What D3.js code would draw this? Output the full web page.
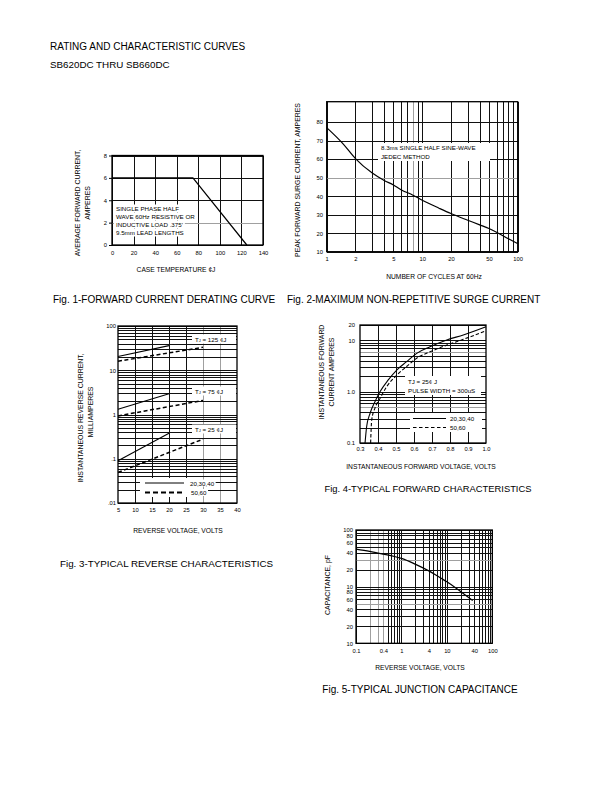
<!DOCTYPE html>
<html><head><meta charset="utf-8">
<script src="https://cdn.jsdelivr.net/npm/d3@7"></script>
<style>
body{margin:0;background:#fff;}
svg{display:block;}
</style></head><body>
<script>
// ---------------- DATA ----------------
const headerLines = ["RATING AND CHARACTERISTIC CURVES", "SB620DC THRU SB660DC"];

// Fig 1
const fig1Temp = [0, 75, 125];
const fig1Current = [6, 6, 0];
const fig1XTicks = [0, 20, 40, 60, 80, 100, 120, 140];
const fig1YTicks = [0, 2, 4, 6, 8];
const fig1Note = ["SINGLE PHASE HALF", "WAVE 60Hz RESISTIVE OR", "INDUCTIVE LOAD .375'", "9.5mm LEAD LENGTHS"];

// Fig 2
const fig2Cycles = [1, 1.5, 2, 3, 4, 5, 6, 8, 10, 15, 20, 30, 40, 50, 60, 80, 100];
const fig2Current = [77, 68, 60.3, 52.5, 48.5, 46, 43.5, 40.5, 37.8, 33.5, 30.6, 27, 24.5, 22.5, 20.5, 17, 14.4];
const fig2XTicks = [1, 2, 5, 10, 20, 50, 100];
const fig2YTicks = [10, 20, 30, 40, 50, 60, 70, 80];
const fig2Note = ["8.3ms SINGLE HALF SINE-WAVE", "JEDEC METHOD"];

// Fig 3
const fig3SolidV = [5, 20];
const fig3DashedV = [5, 30];
const fig3Solid125 = [20.5, 36];
const fig3Dashed125 = [16, 33];
const fig3Solid75 = [1.32, 2.95];
const fig3Dashed75 = [0.93, 2.08];
const fig3Solid25 = [0.09, 0.376];
const fig3Dashed25 = [0.049, 0.277];
const fig3Temps = ["125", "75", "25"];
const fig3XTicks = [5, 10, 15, 20, 25, 30, 35, 40];
const fig3YTicks = [100, 10, 1, 0.1, 0.01];
const fig3YLabels = ["100", "10", "1", ".1", ".01"];
const fig3Legend = ["20,30,40", "50,60"];

// Fig 4
const fig4SolidV = [0.328, 0.337, 0.356, 0.383, 0.411, 0.457, 0.504, 0.559, 0.615, 0.689, 0.782, 0.874, 1.0];
const fig4SolidI = [0.1, 0.21, 0.38, 0.64, 1.0, 1.7, 2.65, 3.85, 5.6, 7.5, 10.2, 12.8, 18.5];
const fig4DashedV = [0.359, 0.365, 0.383, 0.411, 0.448, 0.504, 0.559, 0.615, 0.689, 0.782, 0.874, 1.0];
const fig4DashedI = [0.1, 0.28, 0.48, 0.74, 1.25, 2.1, 3.1, 4.5, 6.0, 8.1, 10.5, 15.5];
const fig4XTicks = [0.3, 0.4, 0.5, 0.6, 0.7, 0.8, 0.9, 1.0];
const fig4YTicks = [20, 10, 1, 0.1];
const fig4YLabels = ["20", "10", "1.0", "0.1"];
const fig4Note = ["TJ = 25\u00a2 J", "PULSE WIDTH = 300uS"];
const fig4Legend = ["20,30,40", "50,60"];

// Fig 5
const fig5Voltage = [0.1, 0.2, 0.4, 0.7, 1, 2, 4, 7, 10, 20, 37];
const fig5Cap = [46, 42, 37.5, 34, 31.5, 25, 19, 14.5, 12.2, 8.2, 5.7];
const fig5XTicks = [0.1, 0.4, 1, 4, 10, 40, 100];
const fig5XLabels = ["0.1", "0.4", "1", "4", "10", "40", "100"];
const fig5YTicks = [100, 80, 60, 40, 20, 10, 8, 6, 4, 2, 1];
const fig5YLabels = ["100", "80", "60", "40", "20", "10", "80", "60", "40", "20", "10"];

const captions = [
  "Fig. 1-FORWARD CURRENT DERATING CURVE",
  "Fig. 2-MAXIMUM NON-REPETITIVE SURGE CURRENT",
  "Fig. 3-TYPICAL REVERSE CHARACTERISTICS",
  "Fig. 4-TYPICAL FORWARD CHARACTERISTICS",
  "Fig. 5-TYPICAL JUNCTION CAPACITANCE"
];

// ---------------- DRAW ----------------
const FONT = "'Liberation Sans', Arial, Helvetica, sans-serif";
const svg = d3.select("body").append("svg").attr("width", 612).attr("height", 792)
  .attr("font-family", FONT);
svg.append("rect").attr("width", 612).attr("height", 792).attr("fill", "#fff");

const TICK_FS = 5.8, TITLE_FS = 6.7, YTITLE_FS = 6.9, NOTE_FS = 6.2, CAP_FS = 10;

function near(a, b) { return Math.abs(a - b) <= 1e-9 * Math.max(1, Math.abs(b)); }
function logGrid(lo, hi) {
  const out = [];
  for (let e = Math.floor(Math.log10(lo) + 1e-9); e < Math.round(Math.log10(hi) + 0.5); e++) {
    for (let m = 1; m < 10; m++) {
      const v = +(m * Math.pow(10, e)).toPrecision(6);
      if (v >= lo - 1e-12 && v <= hi + 1e-12) out.push(v);
    }
  }
  if (!out.some(v => near(v, hi))) out.push(hi);
  return out;
}

function gridAndFrame(o) {
  const g = svg.append("g");
  const [xl, xr] = o.x.range(), [yb, yt] = o.y.range();
  const grayX = o.grayX || [], grayY = o.grayY || [];
  g.append("g").attr("transform", `translate(0,${yb})`)
    .call(d3.axisBottom(o.x).tickValues(o.xGrid).tickSize(-(yb - yt)).tickFormat(""))
    .call(s => {
      s.select(".domain").remove();
      s.selectAll("line").attr("stroke", d => grayX.some(v => near(v, d)) ? "#a0a0a0" : "#111").attr("stroke-width", 1).attr("shape-rendering", "crispEdges");
    });
  g.append("g").attr("transform", `translate(${xl},0)`)
    .call(d3.axisLeft(o.y).tickValues(o.yGrid).tickSize(-(xr - xl)).tickFormat(""))
    .call(s => {
      s.select(".domain").remove();
      s.selectAll("line").attr("stroke", d => grayY.some(v => near(v, d)) ? "#a0a0a0" : "#111").attr("stroke-width", 1).attr("shape-rendering", "crispEdges");
    });
  return g;
}
function frame(o) {
  const [xl, xr] = o.x.range(), [yb, yt] = o.y.range();
  svg.append("rect").attr("x", xl).attr("y", yt).attr("width", xr - xl).attr("height", yb - yt)
    .attr("fill", "none").attr("stroke", "#000").attr("stroke-width", 1.3);
}
function xLabels(o, ticks, labels, y) {
  svg.append("g").attr("transform", `translate(0,${y})`)
    .call(d3.axisBottom(o.x).tickValues(ticks).tickFormat((d, i) => labels[i]).tickSize(0).tickPadding(0))
    .attr("font-family", FONT).attr("font-size", TICK_FS)
    .call(s => { s.select(".domain").remove(); s.selectAll("text").attr("y", 0).attr("dy", "0.35em").attr("fill", "#000"); });
}
function yLabels(o, ticks, labels, x, tickLen) {
  svg.append("g").attr("transform", `translate(${x},0)`)
    .call(d3.axisLeft(o.y).tickValues(ticks).tickFormat((d, i) => labels[i]).tickSize(tickLen || 0).tickPadding(tickLen ? 2 : 0))
    .attr("font-family", FONT).attr("font-size", TICK_FS)
    .call(s => { s.select(".domain").remove(); s.selectAll("line").attr("stroke", "#000"); s.selectAll("text").attr("fill", "#000"); });
}
function whiteBox(x, y, w, h) {
  svg.append("rect").attr("x", x).attr("y", y).attr("width", w).attr("height", h).attr("fill", "#fff");
}
function text(t, x, y, fs, anchor, rot) {
  const el = svg.append("text").attr("font-size", fs).attr("fill", "#000")
    .attr("text-anchor", anchor || "start").attr("dominant-baseline", "central").text(t);
  if (rot) el.attr("transform", `translate(${x},${y}) rotate(-90)`);
  else el.attr("x", x).attr("y", y);
  return el;
}
// text with a white backing rect behind it (rect sized from text bbox)
function haloText(t, x, y, fs, padX, padY) {
  const el = text(t, x, y, fs);
  const b = el.node().getBBox();
  svg.insert("rect", () => el.node()).attr("x", b.x - padX).attr("y", b.y - padY)
    .attr("width", b.width + 2 * padX).attr("height", b.height + 2 * padY).attr("fill", "#fff");
  return el;
}

// header
text(headerLines[0], 50, 46, 10);
text(headerLines[1], 50, 64.5, 9.8);

// ===== Fig 1 =====
{
  const x = d3.scaleLinear().domain([0, 140]).range([112, 263]);
  const y = d3.scaleLinear().domain([0, 8]).range([245, 155.5]);
  const o = { x, y, xGrid: fig1XTicks, yGrid: fig1YTicks, grayY: [2] };
  gridAndFrame(o);
  fig1Note.forEach((t, i) => haloText(t, 116, 208.5 + i * 8, NOTE_FS, 2, 0.5));
  frame(o);
  const line = d3.line().x((d, i) => x(fig1Temp[i])).y((d, i) => y(fig1Current[i]));
  svg.append("path").datum(fig1Temp).attr("d", line).attr("fill", "none").attr("stroke", "#000").attr("stroke-width", 1.2);
  xLabels(o, fig1XTicks, fig1XTicks.map(String), 252.5);
  yLabels(o, fig1YTicks, fig1YTicks.map(String), 112, 3);
  text("CASE TEMPERATURE \u00a2J", 176, 269, TITLE_FS, "middle");
  text("AVERAGE FORWARD CURRENT,", 77, 203, YTITLE_FS, "middle", true);
  text("AMPERES", 87, 203, YTITLE_FS, "middle", true);
}

// ===== Fig 2 =====
{
  const x = d3.scaleLog().domain([1, 100]).range([326.7, 517.7]);
  const y = d3.scaleLinear().domain([10, 91]).range([251.7, 101.7]);
  const o = { x, y, xGrid: logGrid(1, 100), yGrid: fig2YTicks, grayX: [8], grayY: [50] };
  gridAndFrame(o);
  whiteBox(378, 143, 112, 18);
  fig2Note.forEach((t, i) => text(t, 381, 147.5 + i * 8.5, NOTE_FS));
  frame(o);
  const line = d3.line().x((d, i) => x(fig2Cycles[i])).y((d, i) => y(fig2Current[i])).curve(d3.curveMonotoneX);
  svg.append("path").datum(fig2Cycles).attr("d", line).attr("fill", "none").attr("stroke", "#000").attr("stroke-width", 1.2);
  xLabels(o, fig2XTicks, fig2XTicks.map(String), 258.5);
  yLabels(o, fig2YTicks, fig2YTicks.map(String), 323);
  text("NUMBER OF CYCLES AT 60Hz", 434, 276, TITLE_FS, "middle");
  text("PEAK FORWARD SURGE CURRENT, AMPERES", 297, 180, YTITLE_FS, "middle", true);
}

// ===== Fig 3 =====
{
  const x = d3.scaleLinear().domain([5, 40]).range([118, 237]);
  const y = d3.scaleLog().domain([0.01, 100]).range([503, 326]);
  const o = { x, y, xGrid: [10, 15, 20, 25, 30, 35], yGrid: logGrid(0.01, 100), grayX: [30, 35] };
  gridAndFrame(o);
  const annY = [339, 391, 429];
  annY.forEach(yy => whiteBox(192, yy - 4.5, 44, 9));
  fig3Temps.forEach((t, i) => {
    const el = svg.append("text").attr("x", 195).attr("y", annY[i]).attr("font-size", NOTE_FS).attr("dominant-baseline", "central");
    el.append("tspan").text("T");
    el.append("tspan").attr("font-size", 4).attr("dy", 1.4).text("J");
    el.append("tspan").attr("dy", -1.4).text(" = " + t + " \u00a2J");
  });
  whiteBox(140, 478, 58, 19);
  frame(o);
  const seg = (vs, is) => vs.map((v, k) => [x(v), y(is[k])]);
  const solid = [fig3Solid125, fig3Solid75, fig3Solid25];
  const dashed = [fig3Dashed125, fig3Dashed75, fig3Dashed25];
  const L = d3.line();
  solid.forEach(s => svg.append("path").attr("d", L(seg(fig3SolidV, s))).attr("fill", "none").attr("stroke", "#000").attr("stroke-width", 1.1));
  dashed.forEach(s => svg.append("path").attr("d", L(seg(fig3DashedV, s))).attr("fill", "none").attr("stroke", "#000").attr("stroke-width", 1.5).attr("stroke-dasharray", "4,2.5"));
  svg.append("line").attr("x1", 145).attr("x2", 184).attr("y1", 483).attr("y2", 483).attr("stroke", "#000").attr("stroke-width", 1);
  svg.append("line").attr("x1", 145).attr("x2", 184).attr("y1", 492.5).attr("y2", 492.5).attr("stroke", "#000").attr("stroke-width", 2.2).attr("stroke-dasharray", "5,3");
  haloText(fig3Legend[0], 190, 483, NOTE_FS, 1, 0);
  haloText(fig3Legend[1], 191, 492.5, NOTE_FS, 1, 0);
  xLabels(o, fig3XTicks, fig3XTicks.map(String), 510);
  yLabels(o, fig3YTicks, fig3YLabels, 116);
  text("REVERSE VOLTAGE, VOLTS", 178, 530, TITLE_FS, "middle");
  text("INSTANTANEOUS REVERSE CURRENT,", 80, 418, YTITLE_FS, "middle", true);
  text("MILLIAMPERES", 90, 412, YTITLE_FS, "middle", true);
}

// ===== Fig 4 =====
{
  const x = d3.scaleLinear().domain([0.3, 1.0]).range([360, 486]);
  const y = d3.scaleLog().domain([0.1, 20]).range([443, 325]);
  const o = { x, y, xGrid: [0.4, 0.5, 0.6, 0.7, 0.8, 0.9], yGrid: logGrid(0.1, 20), grayY: [6, 0.5] };
  gridAndFrame(o);
  whiteBox(405, 376, 76, 19);
  text(fig4Note[0], 408, 381, NOTE_FS);
  text(fig4Note[1], 408, 390.5, NOTE_FS);
  whiteBox(410, 413, 72, 19);
  frame(o);
  const mk = (vs, is) => d3.line().x((d, i) => x(vs[i])).y((d, i) => y(is[i])).curve(d3.curveMonotoneX)(vs);
  svg.append("path").attr("d", mk(fig4SolidV, fig4SolidI)).attr("fill", "none").attr("stroke", "#000").attr("stroke-width", 1.1);
  svg.append("path").attr("d", mk(fig4DashedV, fig4DashedI)).attr("fill", "none").attr("stroke", "#000").attr("stroke-width", 1.1).attr("stroke-dasharray", "3.5,2");
  svg.append("line").attr("x1", 413).attr("x2", 446).attr("y1", 418.5).attr("y2", 418.5).attr("stroke", "#000").attr("stroke-width", 1);
  svg.append("line").attr("x1", 413).attr("x2", 446).attr("y1", 427.5).attr("y2", 427.5).attr("stroke", "#000").attr("stroke-width", 1).attr("stroke-dasharray", "3.5,2.5");
  text(fig4Legend[0], 450, 418.5, NOTE_FS);
  text(fig4Legend[1], 450, 427.5, NOTE_FS);
  xLabels(o, fig4XTicks, fig4XTicks.map(d => d.toFixed(1)), 449);
  yLabels(o, fig4YTicks, fig4YLabels, 355);
  text("INSTANTANEOUS FORWARD VOLTAGE, VOLTS", 421, 466, TITLE_FS, "middle");
  text("INSTANTANEOUS FORWARD", 321, 372, YTITLE_FS, "middle", true);
  text("CURRENT AMPERES", 331, 372, YTITLE_FS, "middle", true);
}

// ===== Fig 5 =====
{
  const x = d3.scaleLog().domain([0.1, 100]).range([356, 492.3]);
  const y = d3.scaleLog().domain([1, 100]).range([643.3, 530]);
  const o = { x, y, xGrid: logGrid(0.1, 100), yGrid: logGrid(1, 100), grayX: [0.2, 0.3, 0.4], grayY: [30, 5] };
  gridAndFrame(o);
  frame(o);
  const line = d3.line().x((d, i) => x(fig5Voltage[i])).y((d, i) => y(fig5Cap[i])).curve(d3.curveMonotoneX);
  svg.append("path").datum(fig5Voltage).attr("d", line).attr("fill", "none").attr("stroke", "#000").attr("stroke-width", 1.2);
  xLabels(o, fig5XTicks, fig5XLabels, 651);
  yLabels(o, fig5YTicks, fig5YLabels, 353);
  text("REVERSE VOLTAGE, VOLTS", 420, 667, TITLE_FS, "middle");
  text("CAPACITANCE, pF", 327, 585, YTITLE_FS, "middle", true);
}

// captions
text(captions[0], 53, 299.5, CAP_FS);
text(captions[1], 287, 299.5, CAP_FS);
text(captions[2], 60, 563, 9.8);
text(captions[3], 428, 488, 9.4, "middle");
text(captions[4], 420, 689, CAP_FS, "middle");
</script>
</body></html>
